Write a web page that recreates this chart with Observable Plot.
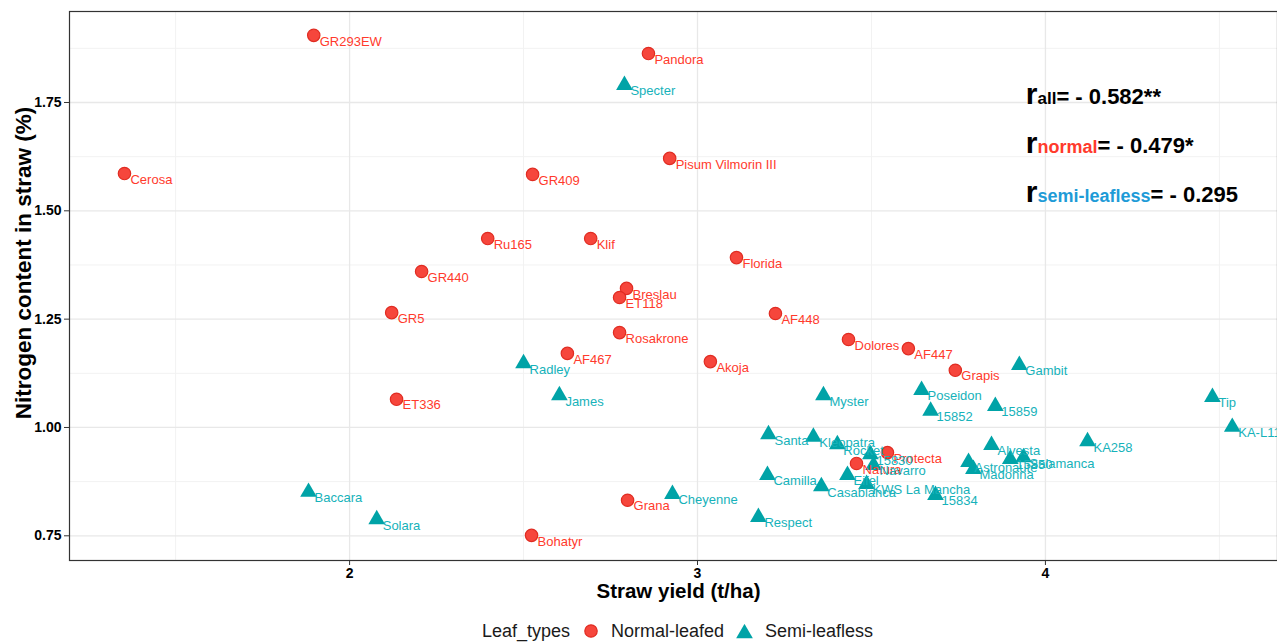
<!DOCTYPE html>
<html><head><meta charset="utf-8">
<script src="https://cdn.jsdelivr.net/npm/d3@7"></script>
<script src="https://cdn.jsdelivr.net/npm/@observablehq/plot@0.6"></script>
<style>
html,body{margin:0;padding:0;background:#fff;overflow:hidden;}
body{font-family:"Liberation Sans",Arial,Helvetica,sans-serif;width:1277px;height:642px;}
#chart svg{display:block;}
#legend{display:flex;justify-content:center;align-items:center;height:22px;padding-left:78px;font-size:18px;color:#1a1a1a;}
#legend .k{display:flex;align-items:center;}
</style></head><body>
<div id="chart"></div>
<div id="legend"></div>
<script>
// ---- data ----
const types = ["Normal-leafed", "Semi-leafless"];

const normalNames = ["GR293EW","Cerosa","Pandora","Pisum Vilmorin III","GR409","Ru165","Klif","Florida","GR440","Breslau","ET118","GR5","AF448","Rosakrone","Dolores","AF447","AF467","Akoja","Grapis","ET336","Protecta","Natura","Grana","Bohatyr"];
const normalYield = [1.897,1.353,2.859,2.920,2.526,2.397,2.693,3.112,2.207,2.796,2.776,2.121,3.224,2.776,3.434,3.606,2.626,3.037,3.741,2.135,3.546,3.457,2.799,2.523];
const normalN     = [1.905,1.586,1.863,1.621,1.584,1.436,1.436,1.392,1.360,1.321,1.300,1.265,1.263,1.219,1.203,1.182,1.171,1.152,1.132,1.065,0.942,0.917,0.832,0.751];

const semiNames = ["Specter","Radley","James","Myster","Gambit","Poseidon","15852","15859","Tip","KA-L11","KA258","Santa","Kleopatra","Rocket","15830","Navarro","Eifel","KWS La Mancha","Casablanca","Camilla","15834","Alvesta","Astronaute","Madonna","15850","Salamanca","Baccara","Solara","Cheyenne","Respect"];
const semiYield = [2.790,2.500,2.603,3.362,3.925,3.644,3.670,3.856,4.480,4.537,4.121,3.204,3.333,3.402,3.497,3.506,3.431,3.486,3.356,3.201,3.684,3.845,3.779,3.793,3.899,3.937,1.882,2.078,2.928,3.175];
const semiN     = [1.790,1.148,1.074,1.074,1.144,1.086,1.038,1.049,1.070,1.001,0.968,0.984,0.978,0.961,0.938,0.913,0.890,0.869,0.864,0.890,0.844,0.959,0.920,0.904,0.927,0.931,0.851,0.788,0.846,0.793];

const xTicks = [2, 3, 4];
const yTicks = [0.75, 1.00, 1.25, 1.50, 1.75];
const xMinor = [1.5, 2.5, 3.5, 4.5];
const yMinor = [0.875, 1.125, 1.375, 1.625, 1.875];

const corrSubs = ["all", "normal", "semi-leafless"];
const corrVals = ["= - 0.582**", "= - 0.479*", "= - 0.295"];

const xTitle = "Straw yield (t/ha)";
const yTitle = "Nitrogen content in straw (%)";
const legendTitle = "Leaf_types";

// ---- styles ----
const pointFill = ["#F6463C", "#00A3A7"];
const textFill = ["#FF3A2C", "#16B2BA"];
const subColors = ["#000000", "#FF3A2C", "#1E9BD7"];
const FONT = "'Liberation Sans', Arial, Helvetica, sans-serif";

const rows = normalNames.map((n, i) => ({name: n, yield: normalYield[i], n: normalN[i], type: types[0]}))
  .concat(semiNames.map((n, i) => ({name: n, yield: semiYield[i], n: semiN[i], type: types[1]})));

const chart = Plot.plot({
  width: 1277, height: 620,
  marginLeft: 69, marginRight: 0, marginTop: 11, marginBottom: 60,
  style: {fontFamily: FONT, color: "#000", background: "#fff", overflow: "hidden"},
  x: {domain: [1.195, 4.667]},
  y: {domain: [0.693, 1.960]},
  color: {domain: types, range: pointFill},
  symbol: {domain: types, range: ["circle", "triangle"]},
  marks: [
    Plot.ruleX(xMinor, {stroke: "#f2f2f2", strokeWidth: 1}),
    Plot.ruleY(yMinor, {stroke: "#f2f2f2", strokeWidth: 1}),
    Plot.ruleX(xTicks, {stroke: "#e8e8e8", strokeWidth: 1.3}),
    Plot.ruleY(yTicks, {stroke: "#e8e8e8", strokeWidth: 1.3}),
    Plot.frame({stroke: "#333", strokeWidth: 1.2}),
    Plot.axisX(xTicks, {label: null, tickSize: 5, tickPadding: 3, fontSize: 14, fontWeight: "bold", stroke: "#333", tickFormat: d => String(d)}),
    Plot.axisY(yTicks, {label: null, tickSize: 5, tickPadding: 3, fontSize: 14, fontWeight: "bold", stroke: "#333", tickFormat: d3.format(".2f")}),
    Plot.dot(rows, {x: "yield", y: "n", symbol: "type", fill: "type", r: 6.2,
      stroke: d => d.type === types[0] ? "#E02C22" : "none", strokeWidth: 1.2}),
    Plot.text(rows, {x: "yield", y: "n", text: "name", textAnchor: "start", dx: 6, dy: 6, fontSize: 13,
      fill: d => textFill[types.indexOf(d.type)]}),
    Plot.text([xTitle], {frameAnchor: "bottom", dx: 5, dy: 37, fontSize: 20.5, fontWeight: "bold", fill: "#000"})
  ]
});
document.getElementById("chart").append(chart);

const svg = d3.select(chart);
// y-axis title
svg.append("text")
  .attr("transform", "translate(25,263) rotate(-90)")
  .attr("text-anchor", "middle").attr("dominant-baseline", "middle")
  .attr("font-family", FONT).attr("font-weight", "bold").attr("font-size", 22.5).attr("fill", "#000")
  .text(yTitle);

// correlation annotation, placed with the chart's scales
const sx = chart.scale("x"), sy = chart.scale("y");
const annoX = 3.945;
const annoY = [1.745, 1.632, 1.519];
const subSizes = [17, 18, 18];
corrSubs.forEach((s, i) => {
  const t = svg.append("text")
    .attr("x", sx.apply(annoX)).attr("y", sy.apply(annoY[i]))
    .attr("text-anchor", "start")
    .attr("font-family", FONT).attr("font-weight", "bold").attr("fill", "#000");
  t.append("tspan").attr("font-size", 30).text("r");
  t.append("tspan").attr("font-size", subSizes[i]).attr("fill", subColors[i]).text(s);
  t.append("tspan").attr("font-size", 22).text(corrVals[i]);
});

// legend
const lg = d3.select("#legend");
lg.append("span").text(legendTitle).style("margin-right", "14px");
const k1 = lg.append("span").attr("class", "k");
k1.append("svg").attr("width", 14).attr("height", 14).style("margin-right", "13px")
  .append("circle").attr("cx", 7).attr("cy", 7).attr("r", 6.2).attr("fill", pointFill[0]).attr("stroke", "#E02C22").attr("stroke-width", 1.2);
k1.append("span").text(types[0]).style("margin-right", "12px");
const k2 = lg.append("span").attr("class", "k");
k2.append("svg").attr("width", 17).attr("height", 15).style("margin-right", "12px")
  .append("path").attr("transform", "translate(8.5,9.5)").attr("d", d3.symbol(d3.symbolTriangle, 6.2 * 6.2 * Math.PI)()).attr("fill", pointFill[1]);
k2.append("span").text(types[1]);
</script>
</body></html>
